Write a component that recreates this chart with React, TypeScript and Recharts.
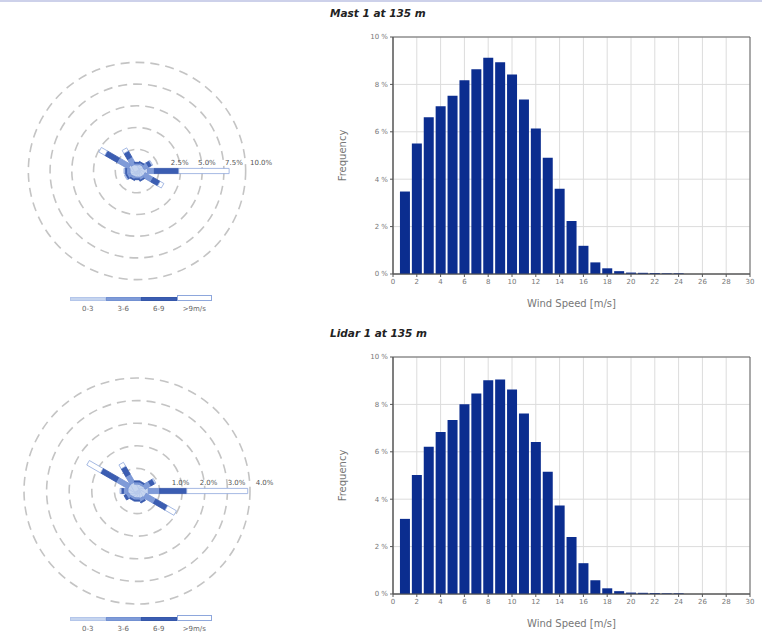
import React from 'react';
import {
  BarChart, Bar, XAxis, YAxis, CartesianGrid, ReferenceArea,
  RadialBarChart, RadialBar, PolarAngleAxis, PolarRadiusAxis, PolarGrid,
} from 'recharts';

// ---------- histogram data ----------
const speedBins = [1, 2, 3, 4, 5, 6, 7, 8, 9, 10, 11, 12, 13, 14, 15, 16, 17, 18, 19, 20, 21, 22, 23, 24, 25, 26, 27, 28, 29, 30];
const mastFreq = [3.48, 5.51, 6.61, 7.08, 7.52, 8.18, 8.64, 9.12, 8.93, 8.42, 7.36, 6.14, 4.91, 3.6, 2.24, 1.19, 0.49, 0.24, 0.12, 0.06, 0.05, 0.04, 0.03, 0.03, 0, 0, 0, 0, 0, 0];
const lidarFreq = [3.17, 5.02, 6.21, 6.84, 7.34, 8.01, 8.46, 9.02, 9.05, 8.63, 7.62, 6.41, 5.16, 3.73, 2.4, 1.3, 0.58, 0.24, 0.12, 0.06, 0.05, 0.04, 0.03, 0.03, 0, 0, 0, 0, 0, 0];
const freqTicks = [0, 2, 4, 6, 8, 10];
const speedTicks = [0, 2, 4, 6, 8, 10, 12, 14, 16, 18, 20, 22, 24, 26, 28, 30];

// ---------- wind rose data ----------
const directions = [0, 30, 60, 90, 120, 150, 180, 210, 240, 270, 300, 330];
const speedClasses = ['0-3', '3-6', '6-9', '>9m/s'];
const classColors = ['#c6d5ef', '#7f9bd8', '#3b5db2', '#ffffff'];
const classStrokes = ['#b4c6ea', '#7391d2', '#3557aa', '#8ea7dc'];

const mastRose03 = [0.7, 0.8, 0.8, 1.2, 0.9, 0.8, 0.7, 0.7, 0.8, 0.8, 1.0, 0.8];
const mastRose36 = [0.2, 0.2, 0.6, 0.8, 1.1, 0.3, 0.2, 0.3, 0.4, 0.4, 1.5, 0.9];
const mastRose69 = [0.1, 0.1, 0.4, 2.8, 0.9, 0.1, 0.1, 0.1, 0.2, 0.2, 1.6, 0.8];
const mastRose9p = [0, 0, 0.1, 5.8, 0.5, 0, 0, 0, 0.1, 0.1, 0.8, 0.4];
const mastRoseTicks = [2.5, 5, 7.5, 10, 12.5];
const mastRoseLabels = ['2.5%', '5.0%', '7.5%', '10.0%'];

const lidarRose03 = [0.3, 0.3, 0.35, 0.5, 0.4, 0.35, 0.3, 0.3, 0.35, 0.4, 0.4, 0.4];
const lidarRose36 = [0.1, 0.1, 0.3, 0.5, 0.5, 0.15, 0.1, 0.1, 0.15, 0.2, 0.6, 0.4];
const lidarRose69 = [0.05, 0.05, 0.2, 1.2, 0.6, 0.05, 0.05, 0.05, 0.1, 0.1, 0.8, 0.4];
const lidarRose9p = [0, 0, 0.05, 2.7, 0.45, 0, 0, 0, 0, 0.05, 0.7, 0.2];
const lidarRoseTicks = [1, 2, 3, 4, 5];
const lidarRoseLabels = ['1.0%', '2.0%', '3.0%', '4.0%'];

const FONT = '"DejaVu Sans", Verdana, sans-serif';

const histRows = (freq: number[]) => speedBins.map((s, i) => ({ speed: s, freq: freq[i] }));
const roseRows = (a: number[], b: number[], c: number[], d: number[]) =>
  directions.map((dir, i) => ({ dir, c0: a[i], c1: b[i], c2: c[i], c3: d[i] }));

const Petal = (props: any) => {
  const { cx, cy, innerRadius, outerRadius, startAngle, endAngle, fill, stroke } = props;
  if (!(outerRadius - innerRadius > 0)) return null;
  const mid = (((startAngle + endAngle) / 2) * Math.PI) / 180;
  const ux = Math.cos(mid);
  const uy = -Math.sin(mid);
  const px = -uy * 2.6;
  const py = ux * 2.6;
  const ax = cx + ux * innerRadius, ay = cy + uy * innerRadius;
  const bx = cx + ux * outerRadius, by = cy + uy * outerRadius;
  const pts = [
    [ax + px, ay + py], [bx + px, by + py], [bx - px, by - py], [ax - px, ay - py],
  ].map((p) => p.join(',')).join(' ');
  return <polygon points={pts} fill={fill} stroke={stroke} strokeWidth={0.8} />;
};

function Rose({ rows, ticks, labels, top }: any) {
  const max = ticks[ticks.length - 1];
  const tick = (p: any) => {
    const i = p.index;
    if (i >= labels.length) return null;
    return (
      <text x={p.x + 21 + 5.4 * i} y={p.y - 6} textAnchor="middle" fontSize={7} fill="#555" fontFamily={FONT}>
        {labels[i]}
      </text>
    );
  };
  return (
    <div style={{ position: 'absolute', left: 0, top, width: 300, height: 320 }}>
      <RadialBarChart
        width={300}
        height={290}
        data={rows}
        layout="centric"
        cx={137}
        cy={171}
        innerRadius={0}
        outerRadius={113}
        startAngle={90}
        endAngle={-270}
        margin={{ top: 0, right: 0, bottom: 0, left: 0 }}
      >
        <PolarGrid gridType="circle" radialLines={false} stroke="#c4c4c4" strokeWidth={1.6} strokeDasharray="9 6" />
        <PolarAngleAxis type="number" dataKey="dir" domain={[0, 360]} tick={false} axisLine={false} tickLine={false} />
        <PolarRadiusAxis type="number" angle={0} domain={[0, max]} ticks={ticks} axisLine={false} tickLine={false} tick={tick} />
        {speedClasses.map((name, k) => (
          <RadialBar
            key={name}
            dataKey={`c${k}`}
            name={name}
            stackId="rose"
            fill={classColors[k]}
            stroke={classStrokes[k]}
            shape={<Petal />}
            isAnimationActive={false}
          />
        ))}
      </RadialBarChart>
      <div style={{ position: 'absolute', left: 70, top: 295, display: 'flex' }}>
        {speedClasses.map((name, k) => (
          <div key={name} style={{ width: 35.5, display: 'flex', flexDirection: 'column', alignItems: 'center' }}>
            <div
              style={{
                width: 35.5,
                height: k === 3 ? 6 : 4,
                marginTop: k === 3 ? 0 : 2,
                boxSizing: 'border-box',
                background: classColors[k],
                border: `1px solid ${classStrokes[k]}`,
              }}
            />
            <div style={{ fontSize: 7, color: '#666', fontFamily: FONT, marginTop: 4, lineHeight: '8px' }}>{name}</div>
          </div>
        ))}
      </div>
    </div>
  );
}

function Histogram({ title, freq, top }: any) {
  const tickStyle = { fontSize: 7, fill: '#777', fontFamily: FONT };
  return (
    <div style={{ position: 'absolute', left: 320, top, width: 440, height: 320 }}>
      <div
        style={{
          position: 'absolute', left: 10, top: 6, fontFamily: FONT, fontStyle: 'italic', fontWeight: 'bold',
          fontSize: 10.5, lineHeight: '14px', color: '#222', whiteSpace: 'nowrap',
        }}
      >
        {title}
      </div>
      <div style={{ position: 'absolute', left: 0, top: 25 }}>
        <BarChart width={440} height={295} data={histRows(freq)} margin={{ top: 12, right: 10, bottom: 26, left: 33 }}>
          <CartesianGrid stroke="#dcdcdc" />
          <XAxis
            dataKey="speed"
            type="number"
            domain={[0, 30]}
            ticks={speedTicks}
            interval={0}
            height={20}
            tick={tickStyle}
            tickSize={3}
            stroke="#555"
            label={{ value: 'Wind Speed [m/s]', position: 'bottom', offset: 6, fontSize: 10, fill: '#777', fontFamily: FONT }}
          />
          <YAxis
            type="number"
            domain={[0, 10]}
            ticks={freqTicks}
            width={40}
            tick={tickStyle}
            tickSize={3}
            stroke="#555"
            tickFormatter={(v: number) => `${v} %`}
            label={{ value: 'Frequency', angle: -90, position: 'left', offset: 11, textAnchor: 'middle', fontSize: 10, fill: '#777', fontFamily: FONT }}
          />
          <ReferenceArea x1={0} x2={30} y1={0} y2={10} fill="none" stroke="#666" strokeWidth={1} />
          <Bar dataKey="freq" fill="#0b2d8f" barSize={10} isAnimationActive={false} />
        </BarChart>
      </div>
    </div>
  );
}

export default function App() {
  return (
    <div style={{ position: 'absolute', left: 0, top: 0, width: 762, height: 633, background: '#fff', overflow: 'hidden' }}>
      <div style={{ position: 'absolute', left: 0, top: 0, width: 762, height: 2, background: '#cdd1ea' }} />
      <Rose rows={roseRows(mastRose03, mastRose36, mastRose69, mastRose9p)} ticks={mastRoseTicks} labels={mastRoseLabels} top={0} />
      <Rose rows={roseRows(lidarRose03, lidarRose36, lidarRose69, lidarRose9p)} ticks={lidarRoseTicks} labels={lidarRoseLabels} top={320} />
      <Histogram title="Mast 1 at 135 m" freq={mastFreq} top={0} />
      <Histogram title="Lidar 1 at 135 m" freq={lidarFreq} top={320} />
    </div>
  );
}
